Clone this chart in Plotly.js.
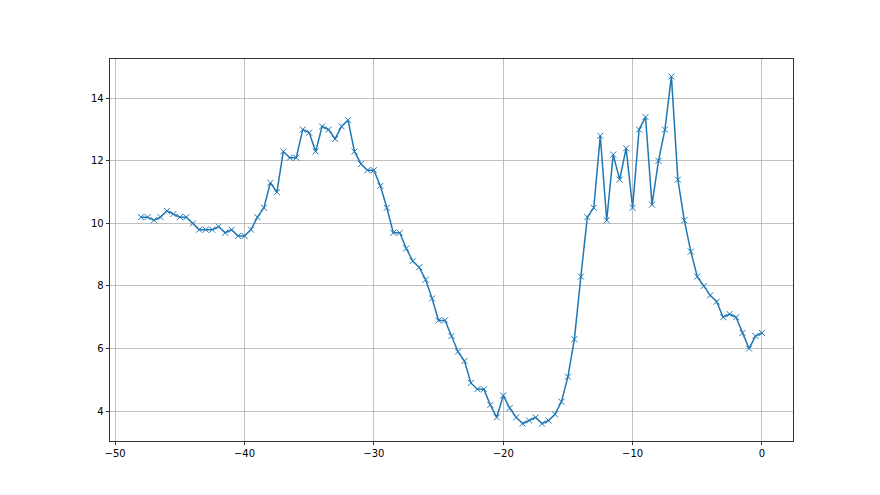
<!DOCTYPE html>
<html><head><meta charset="utf-8">
<script src="https://cdn.plot.ly/plotly-3.0.1.min.js"></script>
<style>html,body{margin:0;padding:0;background:#fff}#chart{width:880px;height:495px}</style>
</head><body><div id="chart"></div>
<script>
const xValues = [-48,-47.5,-47,-46.5,-46,-45.5,-45,-44.5,-44,-43.5,-43,-42.5,-42,-41.5,-41,-40.5,-40,-39.5,-39,-38.5,-38,-37.5,-37,-36.5,-36,-35.5,-35,-34.5,-34,-33.5,-33,-32.5,-32,-31.5,-31,-30.5,-30,-29.5,-29,-28.5,-28,-27.5,-27,-26.5,-26,-25.5,-25,-24.5,-24,-23.5,-23,-22.5,-22,-21.5,-21,-20.5,-20,-19.5,-19,-18.5,-18,-17.5,-17,-16.5,-16,-15.5,-15,-14.5,-14,-13.5,-13,-12.5,-12,-11.5,-11,-10.5,-10,-9.5,-9,-8.5,-8,-7.5,-7,-6.5,-6,-5.5,-5,-4.5,-4,-3.5,-3,-2.5,-2,-1.5,-1,-0.5,0];
const yValues = [10.2,10.2,10.1,10.2,10.4,10.3,10.2,10.2,10.0,9.8,9.8,9.8,9.9,9.7,9.8,9.6,9.6,9.8,10.2,10.5,11.3,11.0,12.3,12.1,12.1,13.0,12.9,12.3,13.1,13.0,12.7,13.1,13.3,12.3,11.9,11.7,11.7,11.2,10.5,9.7,9.7,9.2,8.8,8.6,8.2,7.6,6.9,6.9,6.4,5.9,5.6,4.9,4.7,4.7,4.2,3.8,4.5,4.1,3.8,3.6,3.7,3.8,3.6,3.7,3.9,4.3,5.1,6.3,8.3,10.2,10.5,12.8,10.1,12.2,11.4,12.4,10.5,13.0,13.4,10.6,12.0,13.0,14.7,11.4,10.1,9.1,8.3,8.0,7.7,7.5,7.0,7.1,7.0,6.5,6.0,6.4,6.5];
const xTicks = [-50,-40,-30,-20,-10,0];
const yTicks = [4,6,8,10,12,14];

const trace = {
  x: xValues, y: yValues, type: 'scatter', mode: 'lines+markers',
  line: {color: '#1f77b4', width: 1.5},
  marker: {symbol: 'x-thin', size: 6, color: '#1f77b4', line: {color: '#1f77b4', width: 1}}
};
const axisCommon = {
  showgrid: true, gridcolor: '#b0b0b0', gridwidth: 0.8,
  showline: true, linecolor: '#000', linewidth: 0.8, mirror: true,
  ticks: 'outside', ticklen: 3.5, tickwidth: 0.8, tickcolor: '#000',
  zeroline: false, tickfont: {family: 'DejaVu Sans', size: 10, color: '#000'}
};
const layout = {
  width: 880, height: 495,
  margin: {l: 110, r: 87, t: 59, b: 54},
  paper_bgcolor: '#fff', plot_bgcolor: '#fff',
  showlegend: false,
  xaxis: Object.assign({}, axisCommon, {range: [-50.4, 2.4], tickvals: xTicks}),
  yaxis: Object.assign({}, axisCommon, {range: [3.045, 15.255], tickvals: yTicks})
};
Plotly.newPlot('chart', [trace], layout, {displayModeBar: false, staticPlot: true});
</script></body></html>
